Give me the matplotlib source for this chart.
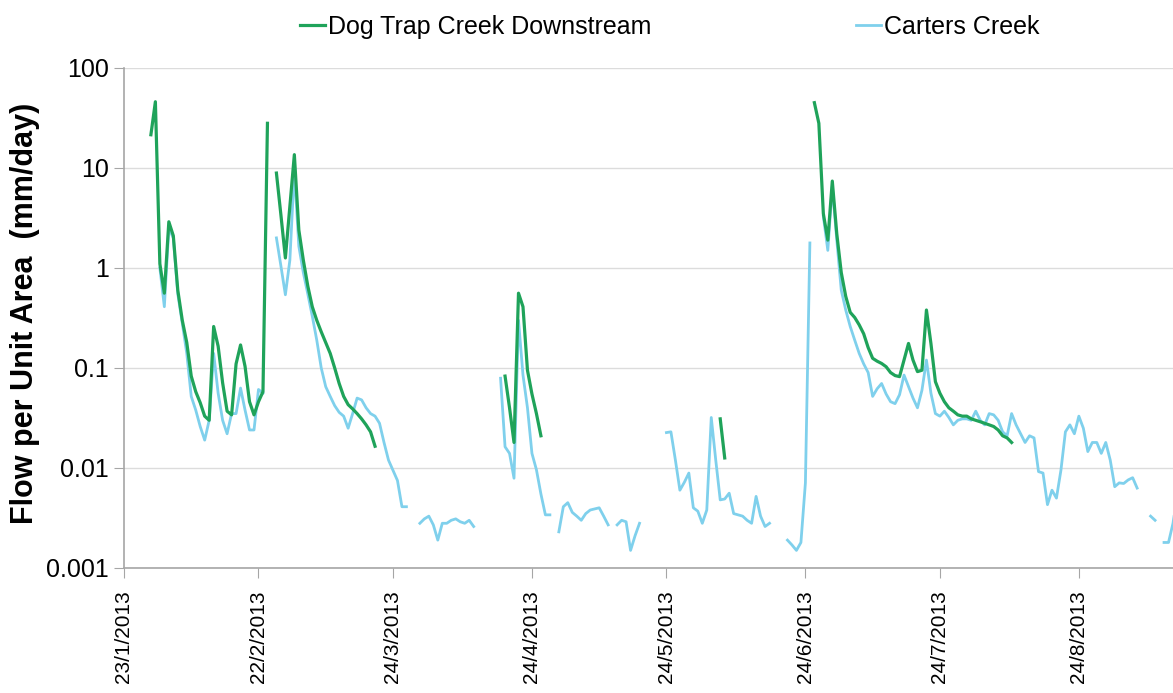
import numpy as np
import matplotlib
matplotlib.use("Agg")
from matplotlib import pyplot as plt
from matplotlib.ticker import NullLocator

plt.rcParams['font.family'] = ['Liberation Sans', 'DejaVu Sans']

nan = np.nan

# daily flow per unit area (mm/day), first value is 23/1/2013
start_date = np.datetime64('2013-01-23')

dog_trap = [
    nan, nan, nan, nan, nan, nan, 21.5, 46, 1.1, 0.56,                          # d0
    2.9, 2.1, 0.6, 0.3, 0.18, 0.083, 0.058, 0.045, 0.033, 0.030,               # d10
    0.26, 0.165, 0.071, 0.037, 0.034, 0.11, 0.17, 0.104, 0.046, 0.034,         # d20
    0.046, 0.058, 28, nan, 8.9, 3.4, 1.26, 4.2, 13.6, 2.4,                     # d30
    1.2, 0.66, 0.41, 0.30, 0.23, 0.18, 0.14, 0.10, 0.07, 0.052,                # d40
    0.043, 0.039, 0.035, 0.031, 0.027, 0.023, 0.0165, nan, nan, nan,           # d50
    nan, nan, nan, nan, nan, nan, nan, nan, nan, nan,                          # d60
    nan, nan, nan, nan, nan, nan, nan, nan, nan, nan,                          # d70
    nan, nan, nan, nan, nan, 0.083, 0.04, 0.018, 0.56, 0.41,                   # d80
    0.095, 0.055, 0.035, 0.021, nan, nan, nan, nan, nan, nan,                  # d90
    nan, nan, nan, nan, nan, nan, nan, nan, nan, nan,                          # d100
    nan, nan, nan, nan, nan, nan, nan, nan, nan, nan,                          # d110
    nan, nan, nan, nan, nan, nan, nan, nan, nan, nan,                          # d120
    nan, nan, nan, 0.031, 0.0126, nan, nan, nan, nan, nan,                     # d130
    nan, nan, nan, nan, nan, nan, nan, nan, nan, nan,                          # d140
    nan, nan, nan, nan, 45, 28, 3.5, 1.9, 7.4, 2.2,                            # d150
    0.9, 0.52, 0.36, 0.32, 0.27, 0.22, 0.16, 0.125, 0.117, 0.111,              # d160
    0.103, 0.09, 0.084, 0.082, 0.12, 0.176, 0.12, 0.092, 0.095, 0.38,          # d170
    0.176, 0.073, 0.056, 0.046, 0.04, 0.037, 0.034, 0.033, 0.033, 0.031,       # d180
    0.03, 0.029, 0.028, 0.027, 0.026, 0.024, 0.021, 0.02, 0.018, nan,          # d190
    nan, nan, nan, nan, nan, nan, nan, nan, nan, nan,                          # d200
    nan, nan, nan, nan, nan, nan, nan, nan, nan, nan,                          # d210
    nan, nan, nan, nan, nan, nan, nan, nan, nan, nan,                          # d220
    nan, nan, nan, nan, nan, nan,                                              # d230
]

carters = [
    nan, nan, nan, nan, nan, nan, nan, nan, 1.0, 0.41,                         # d0
    2.5, 2.0, 0.55, 0.28, 0.14, 0.052, 0.038, 0.026, 0.019, 0.030,             # d10
    0.14, 0.056, 0.030, 0.022, 0.035, 0.035, 0.063, 0.038, 0.024, 0.024,       # d20
    0.061, 0.056, nan, nan, 2.0, 1.05, 0.54, 1.2, 9.6, 1.65,                   # d30
    0.9, 0.55, 0.33, 0.19, 0.10, 0.065, 0.052, 0.042, 0.036, 0.033,            # d40
    0.025, 0.035, 0.050, 0.048, 0.040, 0.035, 0.033, 0.028, 0.018, 0.012,      # d50
    0.0095, 0.0075, 0.0041, 0.0041, nan, nan, 0.0028, 0.0031, 0.0033, 0.0027,  # d60
    0.0019, 0.0028, 0.0028, 0.0030, 0.0031, 0.0029, 0.0028, 0.0030, 0.0026, nan,  # d70
    nan, nan, nan, nan, 0.079, 0.0163, 0.014, 0.0079, 0.3, 0.085,              # d80
    0.04, 0.014, 0.0096, 0.0055, 0.0034, 0.0034, nan, 0.0023, 0.0041, 0.0045,  # d90
    0.0036, 0.0033, 0.0030, 0.0035, 0.0038, 0.0039, 0.0040, 0.0033, 0.0027, nan,  # d100
    0.0027, 0.0030, 0.0029, 0.0015, 0.0021, 0.0028, nan, nan, nan, nan,        # d110
    nan, 0.0226, 0.023, 0.012, 0.006, 0.0072, 0.0089, 0.004, 0.0037, 0.0028,   # d120
    0.0038, 0.032, 0.012, 0.0048, 0.0049, 0.0056, 0.0035, 0.0034, 0.0033, 0.0030,  # d130
    0.0028, 0.0052, 0.0033, 0.0026, 0.0028, nan, nan, nan, 0.0019, 0.0017,     # d140
    0.0015, 0.0018, 0.0071, 1.78, nan, nan, 3.3, 1.5, 6.6, 1.9,                # d150
    0.6, 0.38, 0.26, 0.19, 0.14, 0.11, 0.09, 0.052, 0.062, 0.07,               # d160
    0.055, 0.046, 0.044, 0.054, 0.085, 0.065, 0.05, 0.04, 0.06, 0.12,          # d170
    0.056, 0.035, 0.033, 0.037, 0.032, 0.027, 0.03, 0.031, 0.031, 0.03,        # d180
    0.037, 0.03, 0.027, 0.035, 0.034, 0.03, 0.023, 0.021, 0.035, 0.027,        # d190
    0.022, 0.018, 0.021, 0.020, 0.0092, 0.0089, 0.0043, 0.006, 0.005, 0.0095,  # d200
    0.023, 0.027, 0.022, 0.033, 0.025, 0.0146, 0.018, 0.018, 0.014, 0.018,     # d210
    0.012, 0.0065, 0.0071, 0.007, 0.0076, 0.008, 0.0063, nan, nan, 0.0033,     # d220
    0.003, nan, 0.0018, 0.0018, 0.0028, 0.0056,                                # d230
]

tick_dates = ['2013-01-23', '2013-02-22', '2013-03-24', '2013-04-24',
              '2013-05-24', '2013-06-24', '2013-07-24', '2013-08-24']
tick_labels = ['23/1/2013', '22/2/2013', '24/3/2013', '24/4/2013',
               '24/5/2013', '24/6/2013', '24/7/2013', '24/8/2013']
y_ticks = [0.001, 0.01, 0.1, 1, 10, 100]
y_labels = ['0.001', '0.01', '0.1', '1', '10', '100']

dates = start_date + np.arange(len(carters))

fig = plt.figure(figsize=(11.73, 6.93), dpi=100)
ax = fig.add_axes([124/1173, 1 - 568/693, 1 - 124/1173, 500/693])

l2, = ax.plot(dates, carters, color='#7fd0ec', lw=2.0, label='Carters Creek')
l1, = ax.plot(dates, dog_trap, color='#1fa35a', lw=2.3, label='Dog Trap Creek Downstream')

ax.set_yscale('log')
ax.set_ylim(0.001, 100)
ax.set_yticks(y_ticks)
ax.set_yticklabels(y_labels)
ax.yaxis.set_minor_locator(NullLocator())
ax.set_xlim(start_date, start_date + np.timedelta64(234, 'D'))
ax.set_xticks(np.array(tick_dates, dtype='datetime64[D]'))
ax.set_xticklabels(tick_labels, rotation=90)

ax.grid(axis='y', color='#dcdcdc', lw=1)
ax.set_axisbelow(True)
for s in ['top', 'right']:
    ax.spines[s].set_visible(False)
for s in ['left', 'bottom']:
    ax.spines[s].set_color('#a6a6a6')
    ax.spines[s].set_linewidth(1.2)

ax.tick_params(axis='x', length=7, color='#a6a6a6', labelsize=15, pad=9)
ax.tick_params(axis='y', length=7, color='#a6a6a6', labelsize=18, pad=4)

ax.set_ylabel('Flow per Unit Area  (mm/day)', fontsize=22, fontweight='bold')
ax.yaxis.set_label_coords(-0.080, 0.51)

fig.legend([l1, l2], ['Dog Trap Creek Downstream', 'Carters Creek'], ncol=2,
           loc='center left', bbox_to_anchor=(300/1173, 1 - 27/693),
           frameon=False, fontsize=18, handlelength=1.0, handletextpad=0.12,
           columnspacing=8.2, borderpad=0, borderaxespad=0)

plt.savefig('out.png', dpi=100)
